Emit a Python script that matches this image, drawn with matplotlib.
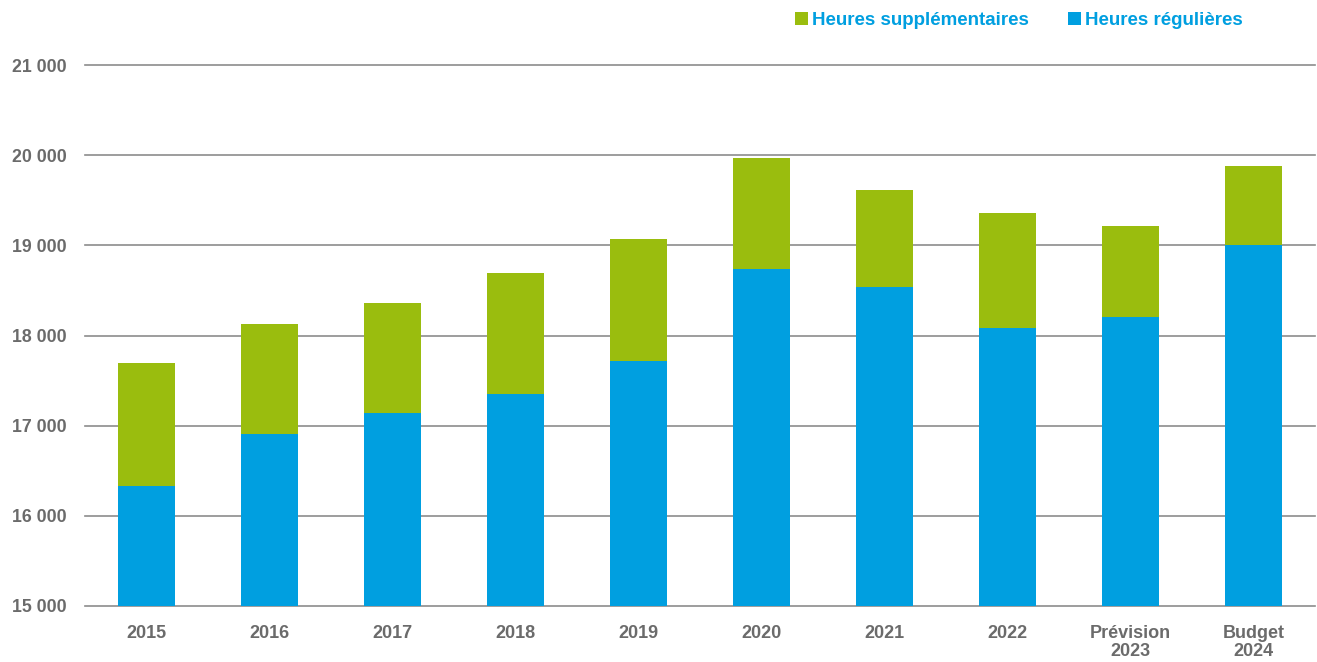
import matplotlib.pyplot as plt
import matplotlib.ticker as mticker
import numpy as np

# Values (hours)
categories = ["2015", "2016", "2017", "2018", "2019", "2020", "2021", "2022",
              "Prévision\n2023", "Budget\n2024"]
regular_hours = [16330, 16910, 17140, 17350, 17720, 18740, 18540, 18080, 18200, 19000]
total_hours = [17690, 18130, 18360, 18690, 19070, 19970, 19610, 19360, 19220, 19880]
overtime_hours = [t - r for t, r in zip(total_hours, regular_hours)]

BLUE = "#009FE0"
GREEN = "#9ABD0E"
GREY = "#6B6B6B"

plt.rcParams["font.family"] = ["Liberation Sans", "DejaVu Sans"]

fig = plt.figure(figsize=(13.17, 6.62), dpi=100)
ax = fig.add_axes([0.0645, 0.0846, 0.934, 0.8172])

x = np.arange(len(categories))
width = 0.46
b_reg = ax.bar(x, regular_hours, width, color=BLUE, zorder=2,
               label="Heures régulières")
b_sup = ax.bar(x, overtime_hours, width, bottom=regular_hours, color=GREEN,
               zorder=2, label="Heures supplémentaires")

ax.set_xlim(-0.5, len(categories) - 0.5)
ax.set_ylim(15000, 21000)
ax.set_yticks(np.arange(15000, 21001, 1000))
ax.yaxis.set_major_formatter(
    mticker.FuncFormatter(lambda v, p: f"{int(v):,}".replace(",", " ")))
ax.set_xticks(x)
ax.set_xticklabels(categories, linespacing=1.05)

ax.grid(axis="y", color="#8C8C8C", linewidth=1.2, zorder=1)
for line in ax.get_ygridlines():
    line.set_clip_on(False)
for s in ax.spines.values():
    s.set_visible(False)
ax.tick_params(axis="both", length=0, labelsize=13, colors=GREY)
ax.tick_params(axis="y", labelsize=12.8, pad=13)
ax.tick_params(axis="x", pad=14)
for lbl in ax.get_xticklabels() + ax.get_yticklabels():
    lbl.set_fontweight("bold")

leg = fig.legend([b_sup, b_reg], ["Heures supplémentaires", "Heures régulières"],
                 loc="upper left", bbox_to_anchor=(0.591, 1.008), ncol=2,
                 frameon=False, handlelength=0.7, handleheight=0.7,
                 handletextpad=0.2, columnspacing=2.1, labelcolor=BLUE,
                 prop={"weight": "bold", "size": 13.5})

fig.savefig("out.png", dpi=100)
